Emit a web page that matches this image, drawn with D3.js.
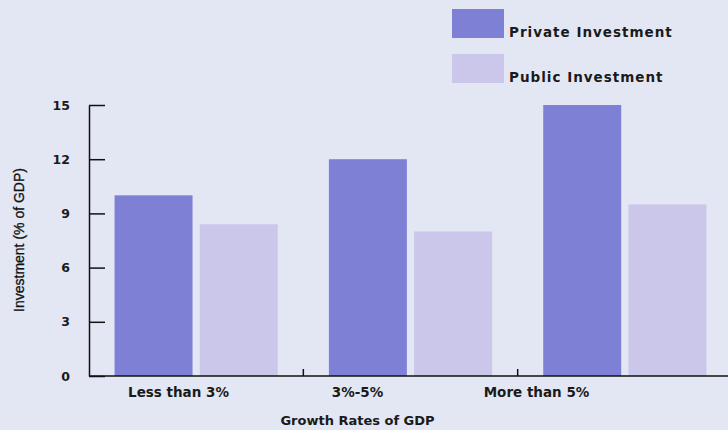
<!DOCTYPE html>
<html>
<head>
<meta charset="utf-8">
<script src="https://cdn.jsdelivr.net/npm/d3@7"></script>
<style>
  html, body { margin: 0; padding: 0; background: #e3e7f3; }
  svg { display: block; }
  .lbl { font-family: "DejaVu Sans", Verdana, sans-serif; font-weight: bold; fill: #1a1a1a; }
</style>
</head>
<body>
<svg id="chart" width="728" height="430"></svg>
<script>
// Investment by GDP growth band
const categories = ["Less than 3%", "3%-5%", "More than 5%"];
const seriesNames = ["Private Investment", "Public Investment"];
const privateValues = [10, 12, 15];
const publicValues = [8.4, 8.0, 9.5];
const yTicks = [0, 3, 6, 9, 12, 15];

const colors = { "Private Investment": "#7d80d4", "Public Investment": "#cbc7eb" };
const rows = categories.map((c, i) => ({ cat: c, values: [privateValues[i], publicValues[i]] }));

const svg = d3.select("#chart");
const W = 728, H = 430;
const x0 = 89, yBottom = 376, yTop = 105;

svg.append("rect").attr("width", W).attr("height", H).attr("fill", "#e3e7f3");

const x = d3.scaleBand().domain(categories).range([x0, 732]).paddingInner(0).paddingOuter(0);
const xs = d3.scaleBand().domain(seriesNames).range([0, x.bandwidth()]).paddingInner(0.085).paddingOuter(0.3);
// category labels sit on their own, narrower label axis
const xl = d3.scaleBand().domain(categories).range([x0, 626]);
const y = d3.scaleLinear().domain([0, 15]).range([yBottom, yTop]);

// bars
const g = svg.append("g");
g.selectAll("g.grp").data(rows).join("g")
  .attr("class", "grp")
  .attr("transform", d => `translate(${x(d.cat)},0)`)
  .selectAll("rect").data(d => d.values.map((v, i) => ({ key: seriesNames[i], v })))
  .join("rect")
  .attr("x", d => xs(d.key))
  .attr("width", xs.bandwidth())
  .attr("y", d => y(d.v))
  .attr("height", d => y(0) - y(d.v))
  .attr("fill", d => colors[d.key]);

// y axis
const yAxis = d3.axisLeft(y).tickValues(yTicks).tickSizeInner(-16).tickSizeOuter(0).tickPadding(19);
const ya = svg.append("g").attr("transform", `translate(${x0},0)`).call(yAxis);
ya.select(".domain").attr("stroke", "#111").attr("stroke-width", 1.5);
ya.selectAll(".tick line").attr("stroke", "#111").attr("stroke-width", 1.5);
ya.selectAll(".tick text").attr("class", "lbl").style("font-size", "12.5px").attr("fill", "#222");

// x axis baseline with small separators between groups
svg.append("line").attr("x1", x0).attr("x2", W).attr("y1", yBottom).attr("y2", yBottom)
  .attr("stroke", "#111").attr("stroke-width", 1.5);
svg.selectAll("line.sep").data(categories.slice(1)).join("line")
  .attr("class", "sep")
  .attr("x1", d => x(d)).attr("x2", d => x(d))
  .attr("y1", yBottom).attr("y2", yBottom - 7)
  .attr("stroke", "#111").attr("stroke-width", 1.5);

// category labels
svg.selectAll("text.cat").data(categories).join("text")
  .attr("class", "lbl cat")
  .attr("x", d => xl(d) + xl.bandwidth() / 2)
  .attr("y", 397)
  .attr("text-anchor", "middle")
  .style("font-size", "13.5px")
  .text(d => d);

// axis titles
svg.append("text").attr("class", "lbl")
  .attr("x", (x0 + 626) / 2).attr("y", 425)
  .attr("text-anchor", "middle").style("font-size", "13px")
  .text("Growth Rates of GDP");

svg.append("text")
  .attr("transform", `translate(24,240) rotate(-90)`)
  .attr("text-anchor", "middle")
  .style("font-family", "'Liberation Sans Narrow', 'Liberation Sans', sans-serif")
  .style("font-size", "14px")
  .attr("fill", "#111")
  .attr("stroke", "#111").attr("stroke-width", 0.3)
  .text("Investment (% of GDP)");

// legend
const leg = svg.append("g").selectAll("g").data(seriesNames).join("g")
  .attr("transform", (d, i) => `translate(452,${9 + i * 45})`);
leg.append("rect").attr("width", 52).attr("height", 29).attr("fill", d => colors[d]);
leg.append("text").attr("class", "lbl")
  .attr("x", 57).attr("y", 28)
  .style("font-size", "13.5px")
  .style("letter-spacing", "1px")
  .text(d => d);
</script>
</body>
</html>
